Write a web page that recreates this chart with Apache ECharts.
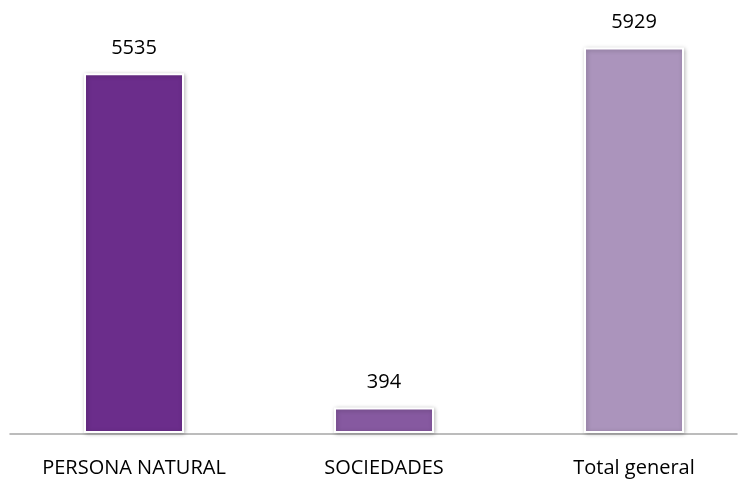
<!DOCTYPE html>
<html><head><meta charset="utf-8">
<script src="https://cdn.jsdelivr.net/npm/echarts@6/dist/echarts.min.js"></script>
<style>html,body{margin:0;padding:0;background:#fff}#c{width:743px;height:479px}</style>
</head><body><div id="c"></div>
<script>
const categories = ['PERSONA NATURAL', 'SOCIEDADES', 'Total general'];
const values = [5535, 394, 5929];
const colors = ['#6B2D8B', '#8659A0', '#AB94BC'];

const chart = echarts.init(document.getElementById('c'));
chart.setOption({
  animation: false,
  grid: [
    {left: 9, width: 750, top: 43, bottom: 46, outerBoundsMode: 'none', containLabel: false},
    {left: 10, right: 6, top: 43, bottom: 45, outerBoundsMode: 'none', containLabel: false}
  ],
  xAxis: [
    {type: 'category', gridIndex: 0, data: categories,
     axisLine: {show: false}, axisTick: {show: false},
     axisLabel: {color: '#000', fontSize: 20, fontFamily: 'Open Sans', margin: 25}},
    {type: 'category', gridIndex: 1, data: categories,
     axisLine: {show: true, lineStyle: {color: '#A6A6A6', width: 1.5}},
     axisTick: {show: false}, axisLabel: {show: false}}
  ],
  yAxis: [
    {type: 'value', gridIndex: 0, min: 0, max: 6000, show: false},
    {type: 'value', gridIndex: 1, show: false}
  ],
  series: [{
    type: 'bar', xAxisIndex: 0, yAxisIndex: 0,
    barWidth: 100,
    data: values.map((v, i) => ({value: v, itemStyle: {color: colors[i]}})),
    itemStyle: {borderColor: '#fff', borderWidth: 2,
      shadowBlur: 4, shadowColor: 'rgba(0,0,0,0.25)', shadowOffsetX: 1, shadowOffsetY: 1},
    label: {show: true, position: 'top', distance: 15, color: '#000',
      fontSize: 20, fontFamily: 'Open Sans'}
  }]
});
</script></body></html>
